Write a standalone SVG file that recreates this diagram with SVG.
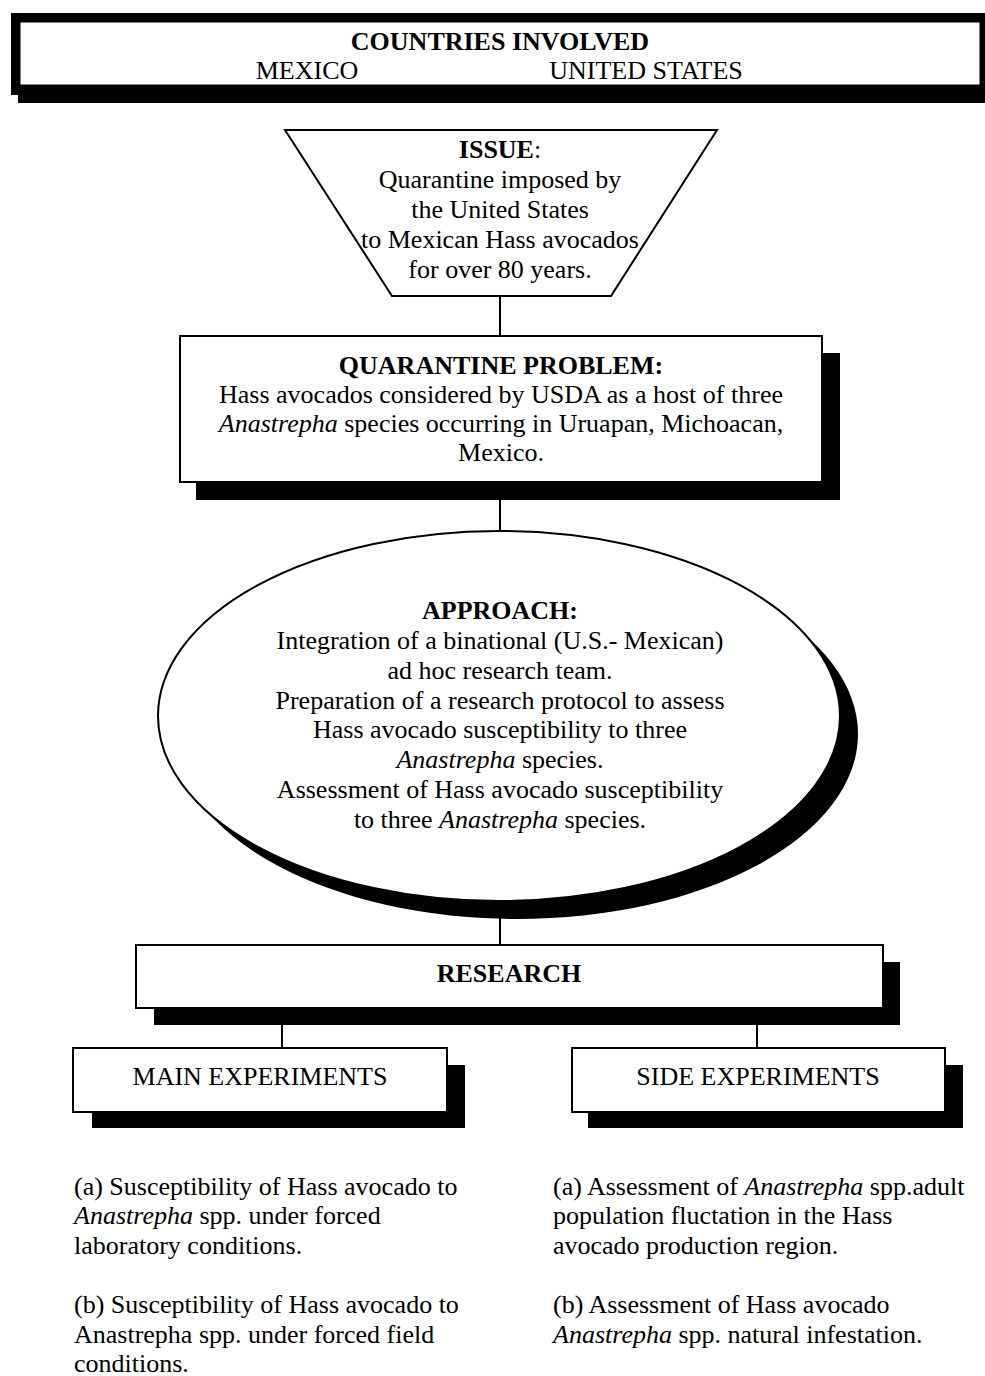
<svg xmlns="http://www.w3.org/2000/svg" width="985" height="1376" viewBox="0 0 985 1376">
<style>
text{font-family:"Liberation Serif","Times New Roman",serif;font-size:26px;fill:#000}
.c{text-anchor:middle}
.b{font-weight:bold}
.i{font-style:italic}
.box{fill:#fff;stroke:#000;stroke-width:2}
.sh{fill:#000}
.ln{stroke:#000;stroke-width:2;fill:none}
</style>
<rect width="985" height="1376" fill="#fff"/>
<g id="connectors">
<line class="ln" x1="500" y1="296" x2="500" y2="336"/>
<line class="ln" x1="500" y1="500" x2="500" y2="532"/>
<line class="ln" x1="500" y1="918" x2="500" y2="946"/>
<line class="ln" x1="282" y1="1025" x2="282" y2="1049"/>
<line class="ln" x1="757" y1="1025" x2="757" y2="1049"/>
</g>
<g id="countries">
<rect class="sh" x="11" y="13" width="974" height="82"/>
<rect class="sh" x="18" y="85" width="967" height="18"/>
<rect x="20" y="22" width="960" height="63" fill="#fff" stroke="#000" stroke-width="1"/>
<text class="c b" x="500" y="50">COUNTRIES INVOLVED</text>
<text class="c" x="307" y="79">MEXICO</text>
<text class="c" x="646" y="79">UNITED STATES</text>
</g>
<g id="issue">
<polygon class="box" points="285,130 717,130 611,296 392,296"/>
<text class="c" x="500" y="158"><tspan class="b">ISSUE</tspan>:</text>
<text class="c" x="500" y="188">Quarantine imposed by</text>
<text class="c" x="500" y="218">the United States</text>
<text class="c" x="500" y="248">to Mexican Hass avocados</text>
<text class="c" x="500" y="278">for over 80 years.</text>
</g>
<g id="problem">
<rect class="sh" x="196" y="353" width="644" height="147"/>
<rect class="box" x="180" y="336" width="642" height="146"/>
<text class="c b" x="501" y="374">QUARANTINE PROBLEM:</text>
<text class="c" x="501" y="403">Hass avocados considered by USDA as a host of three</text>
<text class="c" x="501" y="432"><tspan class="i">Anastrepha</tspan> species occurring in Uruapan, Michoacan,</text>
<text class="c" x="501" y="461">Mexico.</text>
</g>
<g id="approach">
<ellipse class="sh" cx="517" cy="734" rx="341" ry="185"/>
<ellipse class="box" cx="499" cy="716" rx="341" ry="185"/>
<text class="c b" x="500" y="619">APPROACH:</text>
<text class="c" x="500" y="649">Integration of a binational (U.S.- Mexican)</text>
<text class="c" x="500" y="679">ad hoc research team.</text>
<text class="c" x="500" y="709">Preparation of a research protocol to assess</text>
<text class="c" x="500" y="738">Hass avocado susceptibility to three</text>
<text class="c" x="500" y="768"><tspan class="i">Anastrepha</tspan> species.</text>
<text class="c" x="500" y="798">Assessment of Hass avocado susceptibility</text>
<text class="c" x="500" y="828">to three <tspan class="i">Anastrepha</tspan> species.</text>
</g>
<g id="research">
<rect class="sh" x="154" y="962" width="746" height="63"/>
<rect class="box" x="136" y="945" width="747" height="63"/>
<text class="c b" x="509" y="982">RESEARCH</text>
</g>
<g id="main">
<rect class="sh" x="92" y="1065" width="373" height="63"/>
<rect class="box" x="73" y="1048" width="374" height="64"/>
<text class="c" x="260" y="1085">MAIN EXPERIMENTS</text>
</g>
<g id="side">
<rect class="sh" x="588" y="1065" width="375" height="63"/>
<rect class="box" x="572" y="1048" width="373" height="64"/>
<text class="c" x="758" y="1085">SIDE EXPERIMENTS</text>
</g>
<g id="main-notes">
<text x="74" y="1195">(a) Susceptibility of Hass avocado to</text>
<text x="74" y="1224"><tspan class="i">Anastrepha</tspan> spp. under forced</text>
<text x="74" y="1254">laboratory conditions.</text>
<text x="74" y="1313">(b) Susceptibility of Hass avocado to</text>
<text x="74" y="1343">Anastrepha spp. under forced field</text>
<text x="74" y="1372">conditions.</text>
</g>
<g id="side-notes">
<text x="553" y="1195">(a) Assessment of <tspan class="i">Anastrepha</tspan> spp.adult</text>
<text x="553" y="1224">population fluctation in the Hass</text>
<text x="553" y="1254">avocado production region.</text>
<text x="553" y="1313">(b) Assessment of Hass avocado</text>
<text x="553" y="1343"><tspan class="i">Anastrepha</tspan> spp. natural infestation.</text>
</g>
</svg>
